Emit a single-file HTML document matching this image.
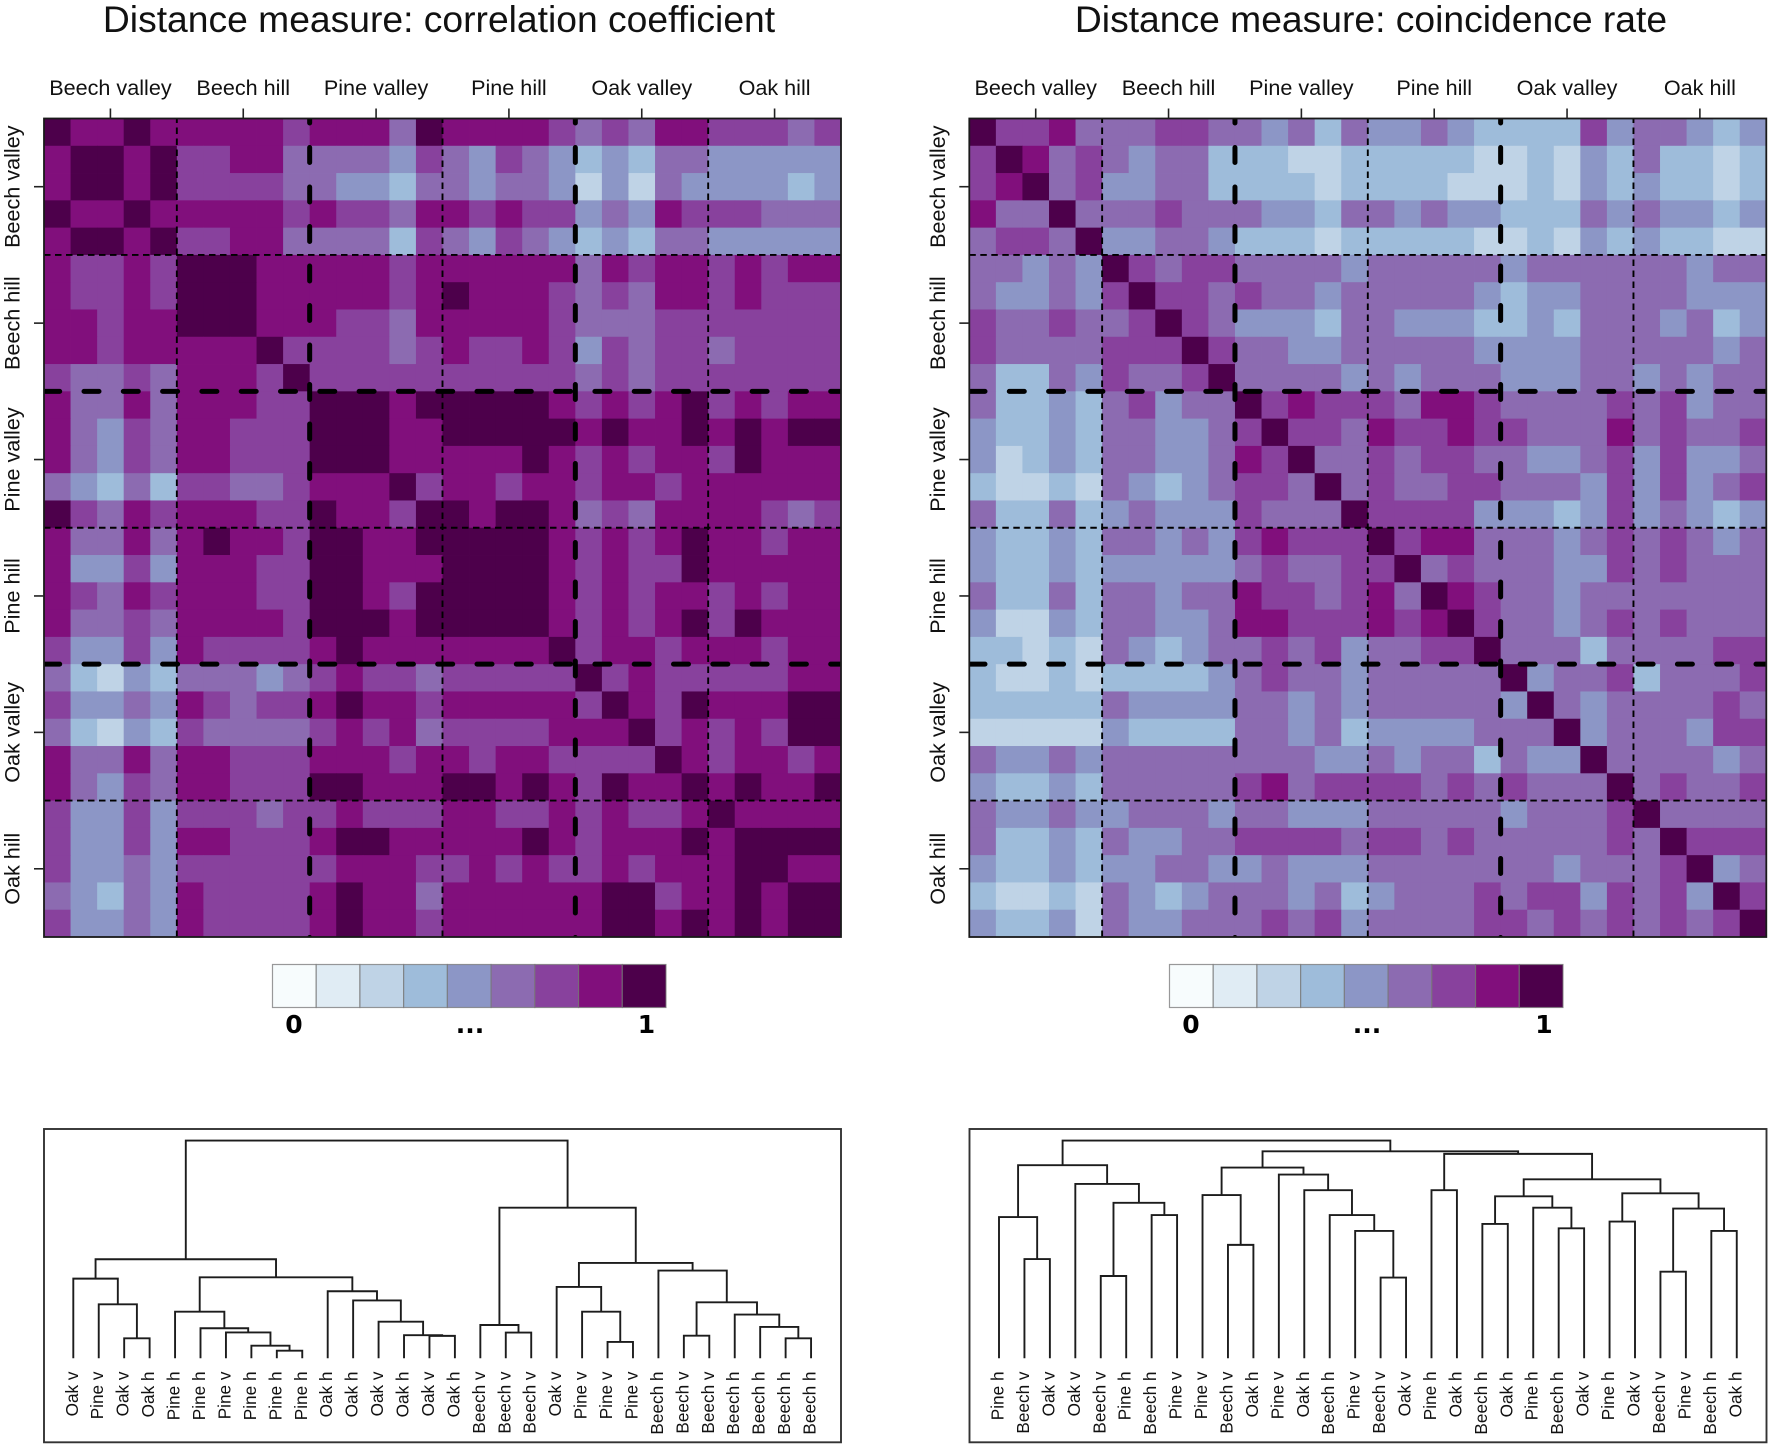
<!DOCTYPE html>
<html lang="en">
<head>
<meta charset="utf-8">
<title>Distance measure heatmaps and dendrograms</title>
<style>
html,body{margin:0;padding:0;background:#fff;width:1772px;height:1447px;overflow:hidden}
svg{display:block}
text{font-family:"Liberation Sans",Arial,sans-serif;fill:#111}
.bold{font-family:"DejaVu Sans",sans-serif;font-weight:bold;fill:#000}
</style>
</head>
<body>
<svg id="root" xmlns="http://www.w3.org/2000/svg" width="1772" height="1447" viewBox="0 0 1772 1447">
  <rect x="0" y="0" width="1772" height="1447" fill="#fff"/>
  <text x="439" y="32" font-size="37.25" text-anchor="middle">Distance measure: correlation coefficient</text>
  <text x="1371" y="32" font-size="37.25" text-anchor="middle">Distance measure: coincidence rate</text>
  <g id="left-heat"></g>
  <g id="right-heat"></g>
  <g id="left-bar"></g>
  <g id="right-bar"></g>
  <g id="left-tree"></g>
  <g id="right-tree"></g>
</svg>
<script>
const groupLabels = ["Beech valley","Beech hill","Pine valley","Pine hill","Oak valley","Oak hill"];
const palette = ["#f7fcfd","#e0ecf4","#bfd3e6","#9ebcda","#8c96c6","#8c6bb1","#88419d","#810f7c","#4d004b"];
const legendLevels = [0,1,2,3,4,5,6,7,8];

const correlationMatrix = [
[8,7,7,8,7,7,7,7,7,6,7,7,7,5,8,7,7,7,7,6,5,6,5,7,7,6,6,6,5,6],
[7,8,8,7,8,6,6,7,7,5,5,5,5,4,6,5,4,6,5,4,3,4,3,5,5,4,4,4,4,4],
[7,8,8,7,8,6,6,6,6,5,5,4,4,3,5,5,4,5,5,4,2,4,2,5,4,4,4,4,3,4],
[8,7,7,8,7,7,7,7,7,6,7,6,6,5,7,7,6,7,6,6,4,5,4,7,6,6,6,5,5,5],
[7,8,8,7,8,6,6,7,7,5,5,5,5,3,6,5,4,6,5,4,3,4,3,5,5,4,4,4,4,4],
[7,6,6,7,6,8,8,8,7,7,7,7,7,6,7,7,7,7,7,7,5,7,6,7,7,6,7,6,7,7],
[7,6,6,7,6,8,8,8,7,7,7,7,7,6,7,8,7,7,7,6,5,6,5,7,7,6,7,6,6,6],
[7,7,6,7,7,8,8,8,7,7,7,6,6,5,7,7,7,7,7,6,5,5,5,6,6,6,6,6,6,6],
[7,7,6,7,7,7,7,7,8,6,6,6,6,5,6,7,6,6,7,6,4,6,5,6,6,5,6,6,6,6],
[6,5,5,6,5,7,7,7,6,8,6,6,6,6,6,6,6,6,6,6,5,6,5,6,6,6,6,6,6,6],
[7,5,5,7,5,7,7,7,6,6,8,8,8,7,8,8,8,8,8,7,6,7,6,7,8,6,7,6,7,7],
[7,5,4,6,5,7,7,6,6,6,8,8,8,7,7,8,8,8,8,8,7,8,7,7,8,7,8,7,8,8],
[7,5,4,6,5,7,7,6,6,6,8,8,8,7,7,7,7,7,8,7,6,7,6,7,7,6,8,7,7,7],
[5,4,3,5,3,6,6,5,5,6,7,7,7,8,6,7,7,6,7,7,6,7,7,6,7,7,7,7,7,7],
[8,6,5,7,6,7,7,7,6,6,8,7,7,6,8,8,7,8,8,7,5,6,5,7,7,7,7,6,5,6],
[7,5,5,7,5,7,8,7,7,6,8,8,7,7,8,8,8,8,8,7,6,7,6,7,8,7,7,6,7,7],
[7,4,4,6,4,7,7,7,6,6,8,8,7,7,7,8,8,8,8,7,6,7,6,6,8,7,7,7,7,7],
[7,6,5,7,6,7,7,7,6,6,8,8,7,6,8,8,8,8,8,7,6,7,6,7,7,6,7,6,7,7],
[7,5,5,6,5,7,7,7,7,6,8,8,8,7,8,8,8,8,8,7,6,7,6,7,8,6,8,7,7,7],
[6,4,4,6,4,7,6,6,6,6,7,8,7,7,7,7,7,7,7,8,6,7,7,6,7,7,7,6,7,7],
[5,3,2,4,3,5,5,5,4,5,6,7,6,6,5,6,6,6,6,6,8,6,7,6,6,6,6,6,7,7],
[6,4,4,5,4,7,6,5,6,6,7,8,7,7,6,7,7,7,7,7,6,8,7,6,8,7,7,7,8,8],
[5,3,2,4,3,6,5,5,5,5,6,7,6,7,5,6,6,6,6,7,7,7,8,6,7,6,7,6,8,8],
[7,5,5,7,5,7,7,6,6,6,7,7,7,6,7,7,6,7,7,6,6,6,6,8,7,6,7,7,6,7],
[7,5,4,6,5,7,7,6,6,6,8,8,7,7,7,8,8,7,8,7,6,8,7,7,8,7,8,7,7,8],
[6,4,4,6,4,6,6,6,5,6,6,7,6,6,6,7,7,6,6,7,6,7,6,6,7,8,7,7,7,7],
[6,4,4,6,4,7,7,6,6,6,7,8,8,7,7,7,7,7,8,7,6,7,7,7,8,7,8,8,8,8],
[6,4,4,5,4,6,6,6,6,6,6,7,7,7,6,6,7,6,7,6,6,7,6,7,7,7,8,8,7,7],
[5,4,3,5,4,7,6,6,6,6,7,8,7,7,5,7,7,7,7,7,7,8,8,6,7,7,8,7,8,8],
[6,4,4,5,4,7,6,6,6,6,7,8,7,7,6,7,7,7,7,7,7,8,8,7,8,7,8,7,8,8]
];

const coincidenceMatrix = [
[8,6,6,7,5,5,5,6,6,5,5,4,5,3,5,4,4,5,4,3,3,3,3,6,4,5,5,4,3,4],
[6,8,7,5,6,5,4,5,5,3,3,3,2,2,3,3,3,3,3,2,2,3,2,4,3,5,3,3,2,3],
[6,7,8,5,6,4,4,5,5,3,3,3,3,2,3,3,3,3,2,2,2,3,2,4,3,4,3,3,2,3],
[7,5,5,8,5,5,5,6,5,5,5,4,4,3,5,5,4,5,4,4,3,3,3,5,4,5,4,4,3,4],
[5,6,6,5,8,4,4,5,5,4,3,3,3,2,3,3,3,3,3,2,2,3,2,4,3,4,3,3,2,2],
[5,5,4,5,4,8,6,5,6,6,5,5,5,5,4,5,5,5,5,5,4,5,5,5,5,5,5,4,5,5],
[5,4,4,5,4,6,8,6,6,5,6,5,5,4,5,5,5,5,5,4,3,4,4,5,5,5,5,4,4,4],
[6,5,5,6,5,5,6,8,6,5,4,4,4,3,5,5,4,4,4,3,3,4,3,5,5,5,4,5,3,4],
[6,5,5,5,5,6,6,6,8,6,5,5,4,4,5,5,5,5,5,4,4,4,4,5,5,5,5,5,4,5],
[5,3,3,5,4,6,5,5,6,8,5,5,5,5,4,5,4,5,5,5,4,4,4,5,5,4,5,4,5,5],
[5,3,3,4,3,5,6,4,5,5,8,6,7,6,6,6,5,7,7,6,5,5,5,5,6,5,6,4,5,5],
[4,3,3,4,3,5,5,4,4,5,6,8,6,6,5,7,6,6,7,6,6,5,5,5,7,5,6,5,5,6],
[4,2,3,4,3,5,5,4,4,5,7,6,8,5,5,6,5,6,6,5,5,4,4,5,6,4,6,4,4,5],
[3,2,2,3,2,5,4,3,4,5,6,6,5,8,5,6,5,5,6,6,5,5,5,4,6,4,6,4,5,6],
[5,3,3,5,3,4,5,4,4,4,6,5,5,5,8,6,6,6,6,4,4,4,3,4,6,4,5,4,3,4],
[4,3,3,4,3,5,5,4,5,4,6,7,6,6,6,8,6,7,7,5,5,5,4,5,6,5,6,5,4,5],
[4,3,3,4,3,4,4,4,4,4,5,6,5,5,6,6,8,5,6,5,5,5,4,4,6,5,6,5,5,5],
[5,3,3,5,3,5,5,4,5,5,7,6,6,5,6,7,5,8,7,6,5,5,4,5,5,5,5,5,5,5],
[4,2,2,4,3,5,5,4,4,5,7,7,6,6,6,7,6,7,8,6,5,5,4,5,6,5,6,5,5,5],
[3,3,2,3,2,5,4,3,4,5,5,6,5,6,4,5,5,6,6,8,5,5,5,3,5,5,5,5,6,6],
[3,2,2,3,2,3,3,3,3,4,5,6,5,5,4,5,5,5,5,5,8,4,5,5,6,3,5,5,5,6],
[3,3,3,3,3,5,4,4,4,4,5,5,4,5,4,5,5,5,5,5,4,8,5,4,5,5,5,5,6,5],
[2,2,2,2,2,4,3,3,3,3,5,5,4,5,3,4,4,4,4,5,5,5,8,4,5,5,5,4,6,6],
[5,4,4,5,4,5,5,5,5,5,5,5,5,4,4,5,4,5,5,3,5,4,4,8,5,5,5,5,4,5],
[4,3,3,4,3,5,5,5,5,5,6,7,5,6,6,6,6,5,6,5,6,5,5,5,8,5,6,5,5,6],
[5,4,4,5,4,4,5,5,5,4,5,5,4,4,4,5,5,5,5,5,4,5,5,5,6,8,5,5,5,5],
[5,3,3,4,3,5,4,4,5,5,6,6,6,6,5,6,6,5,6,5,5,5,5,5,6,5,8,6,6,6],
[4,3,3,4,3,4,4,5,5,4,4,5,4,4,4,5,5,5,5,5,5,5,4,5,5,5,6,8,4,5],
[3,2,2,3,2,5,4,3,4,5,5,5,4,5,3,4,5,5,5,6,5,6,6,4,6,5,6,4,8,6],
[4,3,3,4,2,5,4,4,5,5,5,6,5,6,4,5,5,5,5,6,6,5,6,5,6,5,6,5,6,8]
];

const correlationLeaves = ["Oak v","Pine v","Oak v","Oak h","Pine h","Pine h","Pine v","Pine h","Pine h","Pine h","Oak h","Oak h","Oak v","Oak h","Oak v","Oak h","Beech v","Beech v","Beech v","Oak v","Pine v","Pine v","Pine v","Beech h","Beech v","Beech v","Beech h","Beech h","Beech h","Beech h"];
/* negative = leaf -(i+1); positive = earlier merge, 1-based */
const correlationMergeA = [-3,-2,-1,-9,-8,-7,-6,-5,-15,-14,-13,-12,-11,8,3,-18,-17,-22,-21,-20,-25,-29,-28,-27,21,-24,20,17,15];
const correlationMergeB = [-4,1,2,-10,4,5,6,7,-16,9,10,11,12,13,14,-19,16,-23,18,19,-26,-30,22,23,24,25,26,27,28];
const correlationHeights = [.092,.248,.366,.035,.058,.119,.138,.214,.103,.106,.168,.266,.308,.372,.455,.118,.153,.075,.214,.328,.104,.092,.144,.201,.257,.403,.438,.692,1];

const coincidenceLeaves = ["Pine h","Beech v","Oak v","Oak v","Beech v","Pine h","Beech h","Pine v","Pine v","Beech v","Oak h","Pine v","Oak h","Beech h","Pine v","Beech v","Oak v","Pine h","Oak h","Beech h","Oak h","Pine h","Beech h","Oak v","Pine h","Oak v","Beech v","Pine v","Beech h","Oak h"];
const coincidenceMergeA = [-2,-1,-5,-7,3,-4,2,-10,-9,-16,-15,-14,-13,-12,9,-18,-20,-23,-22,17,-25,-27,-29,22,21,20,16,15,7];
const coincidenceMergeB = [-3,1,-6,-8,4,5,6,-11,8,-17,10,11,12,13,14,-19,-21,-24,18,19,-26,-28,-30,23,24,25,26,27,28];
const coincidenceHeights = [.456,.649,.378,.658,.714,.801,.887,.521,.750,.371,.585,.658,.772,.844,.876,.772,.617,.597,.692,.744,.628,.398,.585,.688,.758,.822,.939,.951,1];

const NS = "http://www.w3.org/2000/svg";
function make(parent, tag, attrs, txt){
  const el = document.createElementNS(NS, tag);
  for(const k in attrs) el.setAttribute(k, attrs[k]);
  if(txt !== undefined) el.textContent = txt;
  parent.appendChild(el);
  return el;
}

function drawHeat(gid, matrix, x0, prefix){
  const g = document.getElementById(gid);
  const W = 797, top = 118.5, bottom = 937;
  const n = matrix.length;
  const xScale = c => x0 + c * W / n;
  const yScale = r => top + r * (bottom - top) / n;
  matrix.forEach((row, r) => row.forEach((v, c) => {
    const cell = make(g, "rect", {x:xScale(c), y:yScale(r), width:W/n+0.4, height:(bottom-top)/n+0.4, fill:palette[v]});
    
    
  }));
  const clipId = prefix + "-clip";
  const cp = make(g, "clipPath", {id:clipId});
  make(cp, "rect", {x:x0, y:top, width:W, height:bottom-top});
  const lines = make(g, "g", {"clip-path":"url(#"+clipId+")"});
  
  
  [5,15,25].forEach(k => {
    const v = make(lines, "line", {x1:xScale(k), x2:xScale(k), y1:bottom, y2:top, stroke:"#000", "stroke-width":1.9, "stroke-dasharray":"6.5 4.5"});
    
    
    const h = make(lines, "line", {x1:x0, x2:x0+W, y1:yScale(k), y2:yScale(k), stroke:"#000", "stroke-width":1.9, "stroke-dasharray":"6.5 4.5"});
    
    
  });
  [10,20].forEach(k => {
    const v = make(lines, "line", {x1:xScale(k), x2:xScale(k), y1:bottom+15.5, y2:top, stroke:"#000", "stroke-width":5, "stroke-linecap":"round", "stroke-dasharray":"15 24.5"});
    
    
    const h = make(lines, "line", {x1:x0+0.7, x2:x0+W, y1:yScale(k), y2:yScale(k), stroke:"#000", "stroke-width":5, "stroke-linecap":"round", "stroke-dasharray":"15 24.3"});
    
    
  });
  const frame = make(g, "rect", {x:x0, y:top, width:W, height:bottom-top, fill:"none", stroke:"#1a1a1a", "stroke-width":1.8});
  
  
  groupLabels.forEach((lab, i) => {
    const cx = xScale(5*i + 2.5), cy = yScale(5*i + 2.5);
    const tx = make(g, "line", {x1:cx, x2:cx, y1:top-10, y2:top, stroke:"#222", "stroke-width":1.6});
    
    
    const ty = make(g, "line", {x1:x0-10, x2:x0, y1:cy, y2:cy, stroke:"#222", "stroke-width":1.6});
    
    
    const lx = make(g, "text", {x:cx, y:95, "font-size":21.6, "text-anchor":"middle"}, lab);
    
    
    const ly = make(g, "text", {transform:"translate("+(x0-24.5)+" "+cy+") rotate(-90)", "font-size":21.6, "text-anchor":"middle"}, lab);
    
    
  });
}

function drawBar(gid, x0, zeroX, dotsX, oneX){
  const g = document.getElementById(gid);
  const w = 393.5 / legendLevels.length, top = 964.5, h = 43;
  legendLevels.forEach((v, i) => {
    const sw = make(g, "rect", {x:x0 + i*w, y:top, width:w, height:h, fill:palette[v], stroke:"#777", "stroke-width":1.2, "stroke-opacity":0.75});
    
    
  });
  [[zeroX,"0"],[dotsX,"..."],[oneX,"1"]].forEach(p => {
    const t = make(g, "text", {x:p[0], y:1033, "font-size":25, "text-anchor":"middle", class:"bold"}, p[1]);
    
    
  });
}

function drawTree(gid, leaves, mergeA, mergeB, heights, frameX, leafX0){
  const g = document.getElementById(gid);
  const frameW = 797, frameTop = 1129, frameBottom = 1442.3;
  const base = 1358.3, span = 217.7, step = 25.44;
  const xScale = i => leafX0 + i * step;
  const yScale = h => base - h * span;
  const frame = make(g, "rect", {x:frameX, y:frameTop, width:frameW, height:frameBottom-frameTop, fill:"none", stroke:"#333", "stroke-width":1.9});
  
  
  leaves.forEach((lab, i) => {
    const t = make(g, "text", {transform:"translate("+(xScale(i)+4.5)+" 1371.5) rotate(-90)", "font-size":17.2, "text-anchor":"end"}, lab);
    
    
  });
  const nodes = [];
  const node = id => id < 0 ? {x:xScale(-id-1), h:0} : nodes[id-1];
  mergeA.forEach((a, i) => {
    const A = node(a), B = node(mergeB[i]), h = heights[i];
    const d = "M"+A.x+" "+yScale(A.h)+"V"+yScale(h)+"H"+B.x+"V"+yScale(B.h);
    const p = make(g, "path", {d:d, fill:"none", stroke:"#1c1c1c", "stroke-width":1.9});
    
    
    nodes.push({x:(A.x+B.x)/2, h:h});
  });
}

drawHeat("left-heat", correlationMatrix, 44, "left");
drawHeat("right-heat", coincidenceMatrix, 969.3, "right");
drawBar("left-bar", 272.5, 294, 470, 646.5);
drawBar("right-bar", 1169.5, 1191, 1367, 1544);
drawTree("left-tree", correlationLeaves, correlationMergeA, correlationMergeB, correlationHeights, 44, 73.3);
drawTree("right-tree", coincidenceLeaves, coincidenceMergeA, coincidenceMergeB, coincidenceHeights, 969.5, 999);
</script>
</body>
</html>
